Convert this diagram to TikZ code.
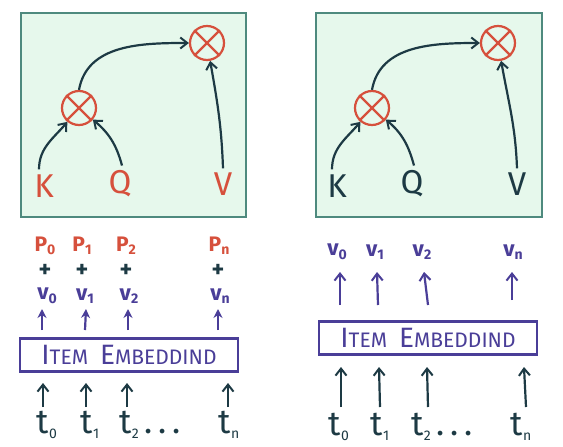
\documentclass[tikz,border=0pt]{standalone}
\usepackage{fontspec}
\setmainfont{Fira Sans}
\usetikzlibrary{arrows.meta}
\definecolor{cred}{HTML}{D6503C}
\definecolor{cdark}{HTML}{1D3A44}
\definecolor{cpurp}{HTML}{4A3E98}
\definecolor{cframe}{HTML}{4E8A7E}
\definecolor{cfill}{HTML}{E6F8EC}
\newcommand{\lowsub}[1]{\raisebox{-0.3ex}{\fontsize{14}{14}\selectfont #1}}
\tikzset{
  x=1pt,y=-1pt,
  panel/.style={draw=cframe,fill=cfill,line width=2.6pt},
  mult/.style={circle,draw=cred,line width=2.2pt,minimum size=34pt,inner sep=0pt},
  big/.style={font=\fontsize{33}{33}\selectfont,inner sep=0pt},
  ptxt/.style={text=cred,font=\bfseries\fontsize{21}{21}\selectfont,inner sep=0pt},
  plus/.style={text=cdark,font=\bfseries\fontsize{24}{24}\selectfont,inner sep=0pt},
  vtxt/.style={text=cpurp,font=\bfseries\fontsize{22}{22}\selectfont,inner sep=0pt},
  ttxt/.style={text=cdark,font=\fontsize{34}{34}\selectfont,inner sep=0pt},
  darr/.style={draw=cdark,line width=2.2pt,-{Straight Barb[length=7pt,width=11pt,line width=2pt]}},
  parr/.style={draw=cpurp,line width=2.2pt,-{Straight Barb[length=7pt,width=11pt,line width=2pt]}},
  parrf/.style={draw=cpurp,line width=2.2pt,-{Stealth[length=9pt,width=9pt]}},
  embbox/.style={draw=cpurp,line width=2.4pt,fill=white,minimum width=218pt,minimum height=33pt,inner sep=0pt,text=cpurp},
}
\newcommand{\embtext}{{\fontsize{28}{28}\selectfont I}{\fontsize{21}{21}\selectfont TEM}\hspace{12pt}{\fontsize{28}{28}\selectfont E}{\fontsize{21}{21}\selectfont MBEDDIND}}
\begin{document}
\begin{tikzpicture}
\useasboundingbox (0,0) rectangle (563,447);
\fill[white] (0,0) rectangle (563,447);
% ---------- left panel ----------
\draw[panel] (21,13) rectangle (246,217);
\node[mult] (m1) at (79,108) {};
\node[mult] (t1) at (207,43) {};
\foreach \n in {m1,t1}{\draw[cred,line width=2.2pt] (\n.north west) -- (\n.south east) (\n.north east) -- (\n.south west);}
\node[big,text=cred] (K1) at (44,186) {K};
\node[big,text=cred] (Q1) at (120,184) {Q};
\node[big,text=cred] (V1) at (223,184) {V};
\draw[darr] (K1.north) ++(-5,-5) coordinate (k1s) (k1s) to[out=90,in=-130] (m1.-130);
\draw[darr] (Q1.north) ++(2,-5) coordinate (q1s) (q1s) to[out=105,in=-40] (m1.-40);
\draw[darr] (V1.north) ++(0,-4) coordinate (v1s) (v1s) to[out=92,in=-80] (t1.-80);
\draw[darr] (m1.north) to[out=80,in=180] (t1.west);
% ---------- right panel ----------
\draw[panel] (316,13) rectangle (542,217);
\node[mult] (m2) at (372,108) {};
\node[mult] (t2) at (498,43) {};
\foreach \n in {m2,t2}{\draw[cred,line width=2.2pt] (\n.north west) -- (\n.south east) (\n.north east) -- (\n.south west);}
\node[big,text=cdark] (K2) at (337,186) {K};
\node[big,text=cdark] (Q2) at (412,184) {Q};
\node[big,text=cdark] (V2) at (517,184) {V};
\draw[darr] (K2.north) ++(-5,-5) coordinate (k2s) (k2s) to[out=90,in=-130] (m2.-130);
\draw[darr] (Q2.north) ++(2,-5) coordinate (q2s) (q2s) to[out=105,in=-40] (m2.-40);
\draw[darr] (V2.north) ++(0,-4) coordinate (v2s) (v2s) to[out=92,in=-80] (t2.-80);
\draw[darr] (m2.north) to[out=80,in=180] (t2.west);
% ---------- left bottom ----------
\node[ptxt] (p0) at (45,246) {P\lowsub{0}};
\node[ptxt] (p1) at (82,246) {P\lowsub{1}};
\node[ptxt] (p2) at (126,246) {P\lowsub{2}};
\node[ptxt] (pn) at (219,246) {P\lowsub{n}};
\node[plus] (a0) at (45,271) {+};
\node[plus] (a1) at (82,271) {+};
\node[plus] (a2) at (126,271) {+};
\node[plus] (an) at (218,271) {+};
\node[vtxt] (v0) at (47,296) {v\lowsub{0}};
\node[vtxt] (v1) at (85,296) {v\lowsub{1}};
\node[vtxt] (v2) at (129,296) {v\lowsub{2}};
\node[vtxt] (vn) at (220,296) {v\lowsub{n}};
\node[embbox] (e1) at (129,355) {\embtext};
\coordinate (u0) at (42,330); \coordinate (u1) at (85,330); \coordinate (u2) at (128,330); \coordinate (un) at (218,330);
\draw[parrf] (u0) -- ++(0,-21);
\draw[parrf] (u1) -- ++(1,-21);
\draw[parrf] (u2) -- ++(0,-21);
\draw[parrf] (un) -- ++(0,-21);
\node[ttxt] (tt0) at (47,425) {t\lowsub{0}};
\node[ttxt] (tt1) at (90,425) {t\lowsub{1}};
\node[ttxt] (tt2) at (150,425) {t\lowsub{2}\,.\,.\,.};
\node[ttxt] (ttn) at (229,425) {t\lowsub{n}};
\coordinate (w0) at (43,407); \coordinate (w1) at (86,407); \coordinate (w2) at (127,407); \coordinate (wn) at (228,407);
\draw[darr] (w0) -- ++(0,-24);
\draw[darr] (w1) -- ++(0,-24);
\draw[darr] (w2) -- ++(0,-24);
\draw[darr] (wn) -- ++(0,-24);
% ---------- right bottom ----------
\node[vtxt] (r0) at (337,252) {v\lowsub{0}};
\node[vtxt] (r1) at (375,252) {v\lowsub{1}};
\node[vtxt] (r2) at (422,252) {v\lowsub{2}};
\node[vtxt] (rn) at (513,252) {v\lowsub{n}};
\node[embbox] (e2) at (428,338) {\embtext};
\coordinate (s0) at (340,305); \coordinate (s1) at (378,305); \coordinate (s2) at (428,305); \coordinate (sn) at (512,300);
\draw[parr] (s0) -- ++(0,-33);
\draw[parr] (s1) -- ++(-1,-33);
\draw[parr] (s2) -- ++(-4,-33);
\draw[parr] (sn) -- ++(0,-28);
\node[ttxt] (q0) at (339,427) {t\lowsub{0}};
\node[ttxt] (q1) at (380,427) {t\lowsub{1}};
\node[ttxt] (q2) at (442,427) {t\lowsub{2}\,.\,.\,.};
\node[ttxt] (qn) at (521,427) {t\lowsub{n}};
\coordinate (x0) at (341,407); \coordinate (x1) at (380,407); \coordinate (x2) at (428,407); \coordinate (xn) at (526,407);
\draw[darr] (x0) -- ++(0,-40);
\draw[darr] (x1) -- ++(-1,-40);
\draw[darr] (x2) -- ++(-1,-40);
\draw[darr] (xn) -- ++(-2,-40);
\end{tikzpicture}
\end{document}
